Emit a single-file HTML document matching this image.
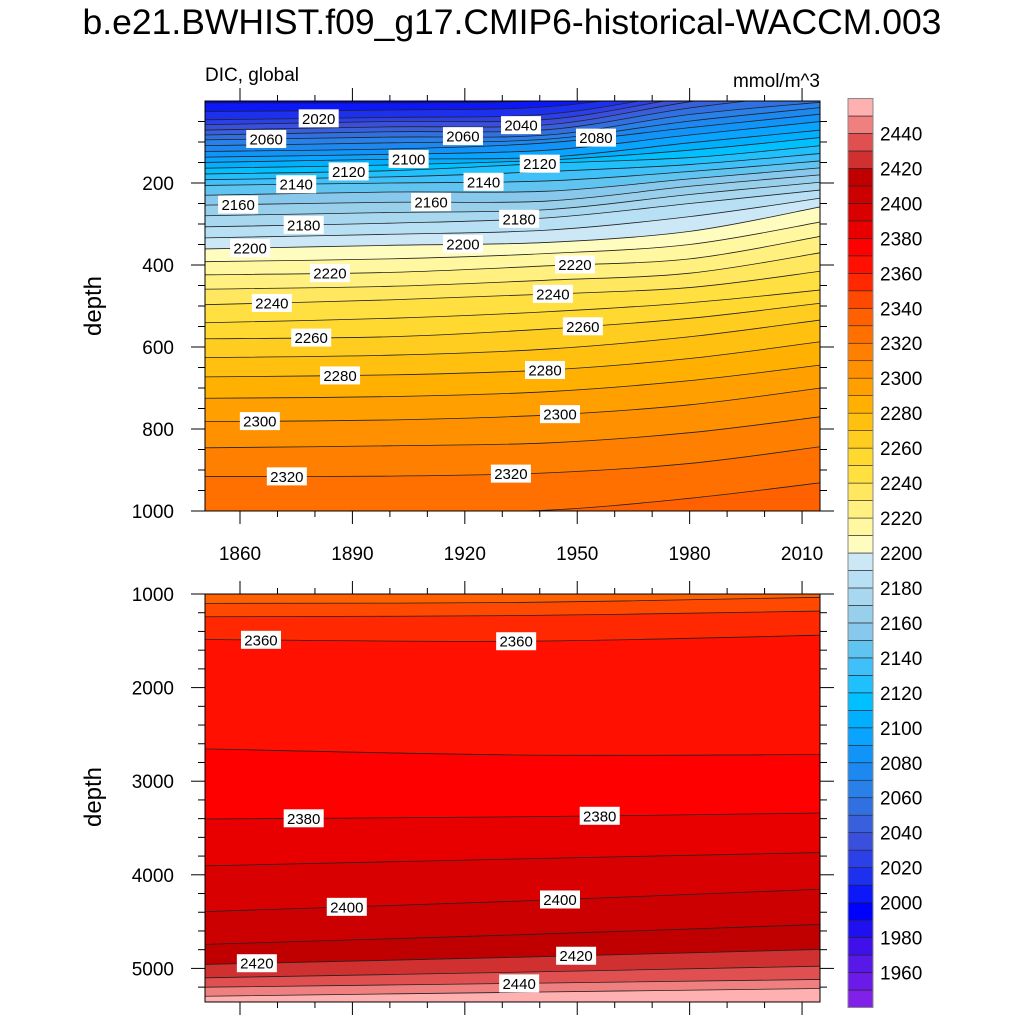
<!DOCTYPE html>
<html><head><meta charset="utf-8"><style>
html,body{margin:0;padding:0;background:#fff;}
svg{display:block;font-family:"Liberation Sans",sans-serif;}
</style></head><body>
<svg id="chart" xmlns="http://www.w3.org/2000/svg" width="1024" height="1024" viewBox="0 0 1024 1024">
<text x="512" y="34" font-size="35.5" text-anchor="middle">b.e21.BWHIST.f09_g17.CMIP6-historical-WACCM.003</text>
<text x="205" y="81" font-size="19">DIC, global</text>
<text x="820" y="87" font-size="19" text-anchor="end">mmol/m^3</text>
<text transform="translate(101,306) rotate(-90)" font-size="24" text-anchor="middle">depth</text>
<text transform="translate(101,797) rotate(-90)" font-size="24" text-anchor="middle">depth</text>
<defs>
<clipPath id="clipTop"><rect x="205" y="101" width="615" height="410"/></clipPath>
<clipPath id="clipBot"><rect x="205" y="594" width="615" height="408"/></clipPath>
</defs>
<g id="topFill" clip-path="url(#clipTop)"></g>
<g id="botFill" clip-path="url(#clipBot)"></g>
<g id="labels"></g>
<g id="axes"></g>
<g id="cbar"></g>
</svg>
<script>
// ---- data ----
const boxLevels = [1940,1950,1960,1970,1980,1990,2000,2010,2020,2030,2040,2050,2060,2070,2080,2090,2100,2110,2120,2130,2140,2150,2160,2170,2180,2190,2200,2210,2220,2230,2240,2250,2260,2270,2280,2290,2300,2310,2320,2330,2340,2350,2360,2370,2380,2390,2400,2410,2420,2430,2440,2450];
const boxColors = ["#8020e8","#6c1ae8","#5818e8","#4010e8","#2010f0","#0000ff","#0c18f8","#1c30ee","#2c40e8","#3a50dc","#3860dc","#3070e0","#2880e8","#1c88f0","#1094f8","#08a4ff","#00b0ff","#00c0ff","#20c0fc","#40c0f8","#60c4f0","#88c8ec","#98d0ec","#a8d8f0","#b8e0f4","#cce8f6","#fffcc0","#fff8a0","#fff080","#ffe860","#ffe040","#ffd830","#ffcc20","#ffc010","#ffb000","#ffa000","#ff9000","#ff8000","#ff7000","#ff6000","#ff4800","#ff2800","#ff1000","#ff0000","#e80000","#d80000","#cc0000","#c00000","#d03030","#e05050","#f08080","#ffb0b0"];
const cbarLabels = [1960,1980,2000,2020,2040,2060,2080,2100,2120,2140,2160,2180,2200,2220,2240,2260,2280,2300,2320,2340,2360,2380,2400,2420,2440];

// top panel: contour depth (m) of each level at each year
const topYears = [1850,1900,1942,1980,2015];
const topLevels = [2000,2010,2020,2030,2040,2050,2060,2070,2080,2090,2100,2110,2120,2130,2140,2150,2160,2170,2180,2190,2200,2210,2220,2230,2240,2250,2260,2270,2280,2290,2300,2310,2320,2330];
const topDepths = [
 [5,5,-2,-40,-80],[26,22,14,-30,-70],[46,40,32,-20,-60],[58,50,45,-10,-50],[71,63,58,2,-40],[83,75,70,17,-20],
 [95,88,83,33,3],[109,102,93,49,16],[123,117,102,65,32],[137,130,120,83,50],[150,142,137,102,71],
 [164,156,144,120,89],[178,170,152,138,109],[192,185,172,155,128],[206,200,195,172,146],[230,222,220,190,163],
 [254,247,244,208,180],[280,272,265,228,198],[307,298,285,250,217],[334,325,315,282,237],[361,352,345,318,258],
 [392,385,372,350,295],[424,418,402,385,330],[459,452,437,420,370],[497,485,471,455,415],[541,530,514,492,461],
 [580,575,556,530,493],[626,620,605,575,534],[673,668,656,628,587],[725,721,709,682,644],[782,778,766,741,700],
 [846,841,834,809,770],[916,915,907,884,843],[1010,1005,998,969,931]];
const topBase = 1990;

// bottom panel
const botYears = [1850,1935,2015];
const botLevels = [2340,2350,2360,2370,2380,2390,2400,2410,2420,2430,2440,2450];
const botDepths = [[1100,1090,1035],[1243,1230,1182],[1486,1505,1440],[2654,2720,2715],[3404,3380,3340],[3905,3830,3762],[4394,4280,4154],[4744,4640,4530],[4958,4880,4797],[5101,5040,4976],[5201,5160,5118],[5298,5255,5215]];
const botBase = 2330;

// contour labels: [level, year]
const topLabelLevels = [2020,2060,2060,2040,2080,2100,2120,2120,2140,2140,2160,2160,2180,2180,2200,2200,2220,2220,2240,2240,2260,2260,2280,2280,2300,2300,2320,2320];
const topLabelYears = [1881,1867,1919.5,1935,1955,1905,1889,1940,1875,1925,1859.5,1911,1877,1934.5,1862.7,1919.5,1884,1949.4,1868.5,1943.5,1879,1951.5,1886.7,1941.4,1865.3,1945.4,1872.5,1932.3];
const botLabelLevels = [2360,2360,2380,2380,2400,2400,2420,2420,2440];
const botLabelYears = [1865.6,1933.7,1877,1956,1888.5,1945.4,1864.5,1949.7,1934.5];

const xTicksMajor = [1860,1890,1920,1950,1980,2010];
const topYTicks = [200,400,600,800,1000];
const botYTicks = [1000,2000,3000,4000,5000];

// ---- scales ----
const NS = "http://www.w3.org/2000/svg";
const xs = y => 240 + (y - 1860) * 3.747;
const ysTop = d => 101 + d * 0.41;
const ysBot = d => 594 + (d - 1000) * 0.0936;
const cbY = v => 553 - (v - 2200) * 1.748;
function colorOf(l){ return boxColors[boxLevels.indexOf(l)]; }
function mk(tag, attrs, parent){ const e=document.createElementNS(NS,tag); for(const k in attrs) e.setAttribute(k,attrs[k]); parent.appendChild(e); return e; }

function curvePath(pts){
  let d = `M${pts[0][0]-20},${pts[0][1]} L${pts[0][0]},${pts[0][1]}`;
  for(let i=0;i<pts.length-1;i++){
    const p0=pts[Math.max(0,i-1)],p1=pts[i],p2=pts[i+1],p3=pts[Math.min(pts.length-1,i+2)];
    const c1=[p1[0]+(p2[0]-p0[0])/6,p1[1]+(p2[1]-p0[1])/6];
    const c2=[p2[0]-(p3[0]-p1[0])/6,p2[1]-(p3[1]-p1[1])/6];
    d+=` C${c1[0]},${c1[1]} ${c2[0]},${c2[1]} ${p2[0]},${p2[1]}`;
  }
  const l=pts[pts.length-1];
  d+=` L${l[0]+20},${l[1]}`;
  return d;
}
function interpDepth(years, depths, yr){
  for(let i=0;i<years.length-1;i++){
    if(yr<=years[i+1]){ const t=(yr-years[i])/(years[i+1]-years[i]); return depths[i]+(depths[i+1]-depths[i])*t; }
  }
  return depths[depths.length-1];
}

function drawPanel(g, years, levels, depths, base, ysf, top, bottom){
  const bg = mk('rect',{x:205,y:top,width:615,height:bottom-top,fill:colorOf(base)},g);
  
  
  levels.forEach((lv,i)=>{
    const pts = years.map((yr,j)=>[xs(yr), ysf(depths[i][j])]);
    const c = curvePath(pts);
    const f = mk('path',{d:c+` L860,${bottom+50} L160,${bottom+50} Z`,fill:colorOf(lv),stroke:'none'},g);
    
    
  });
  levels.forEach((lv,i)=>{
    const pts = years.map((yr,j)=>[xs(yr), ysf(depths[i][j])]);
    const ln = mk('path',{d:curvePath(pts),fill:'none',stroke:'#222',"stroke-width":0.8},g);
    
    
  });
}
drawPanel(document.getElementById('topFill'), topYears, topLevels, topDepths, topBase, ysTop, 101, 511);
drawPanel(document.getElementById('botFill'), botYears, botLevels, botDepths, botBase, ysBot, 594, 1002);

// labels
const lg = document.getElementById('labels');
function addLabel(level, yr, years, levels, depths, ysf){
  const i = levels.indexOf(level);
  const x = xs(yr), y = ysf(interpDepth(years, depths[i], yr));
  const r = mk('rect',{x:x-20,y:y-9,width:40,height:18,fill:'#fff'},lg);
  
  
  const t = mk('text',{x:x,y:y+5.5,"font-size":15,"text-anchor":"middle",fill:'#000'},lg);
  
  
  t.textContent = level;
}
topLabelLevels.forEach((lv,k)=>addLabel(lv, topLabelYears[k], topYears, topLevels, topDepths, ysTop));
botLabelLevels.forEach((lv,k)=>addLabel(lv, botLabelYears[k], botYears, botLevels, botDepths, ysBot));

// axes
const ag = document.getElementById('axes');
function line(x1,y1,x2,y2,name){ const l=mk('line',{x1,y1,x2,y2,stroke:'#000',"stroke-width":1},ag);   }
function frame(top,bottom,name){ const r=mk('rect',{x:205,y:top,width:615,height:bottom-top,fill:'none',stroke:'#000',"stroke-width":1},ag);   }
frame(101,511,'top-panel-frame'); frame(594,1002,'bottom-panel-frame');
for(let yr=1860; yr<=2010; yr+=10){
  const maj = (yr-1860)%30===0, x=xs(yr), L=maj?13:6;
  line(x,511,x,511+L,'x-tick'); line(x,101,x,101-L,'x-tick');
  line(x,594,x,594-L,'x-tick'); line(x,1002,x,1002+L,'x-tick');
}
xTicksMajor.forEach(yr=>{ const t=mk('text',{x:xs(yr),y:560,"font-size":19,"text-anchor":"middle"},ag);   t.textContent=yr; });
for(let d=50; d<=1000; d+=50){
  const maj = d%200===0, y=ysTop(d), L=maj?14:7;
  line(205,y,205-L,y,'y-tick'); line(820,y,820+L,y,'y-tick');
}
topYTicks.forEach(d=>{ const t=mk('text',{x:174,y:ysTop(d)+7,"font-size":19,"text-anchor":"end"},ag);   t.textContent=d; });
for(let d=1000; d<=5300; d+=200){
  const maj = d%1000===0, y=ysBot(d), L=maj?14:7;
  line(205,y,205-L,y,'y-tick'); line(820,y,820+L,y,'y-tick');
}
botYTicks.forEach(d=>{ const t=mk('text',{x:174,y:ysBot(d)+7,"font-size":19,"text-anchor":"end"},ag);   t.textContent=d; });

// colorbar
const cg = document.getElementById('cbar');
boxLevels.forEach((lv,i)=>{
  const r = mk('rect',{x:848,y:cbY(lv+10),width:25,height:cbY(lv)-cbY(lv+10),fill:boxColors[i],stroke:'#222',"stroke-width":0.6},cg);
  
  
});
const cf = mk('rect',{x:848,y:cbY(2460),width:25,height:cbY(1940)-cbY(2460),fill:'none',stroke:'#888',"stroke-width":1},cg);


cbarLabels.forEach(v=>{ const t=mk('text',{x:880,y:cbY(v)+7,"font-size":19},cg);   t.textContent=v; });
</script>
</body></html>
